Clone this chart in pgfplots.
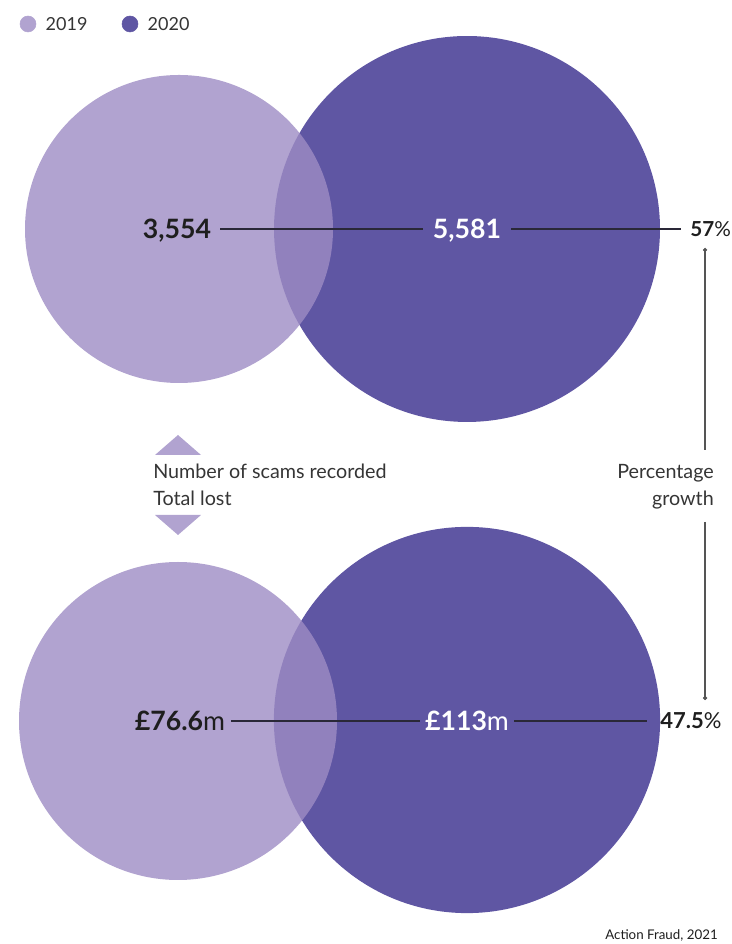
\documentclass[border=0pt]{standalone}
\usepackage{pgfplots}
\usepackage{pgfplotstable}
\pgfplotsset{compat=1.18}
\usepackage{fontspec}
\setmainfont{Lato}
\definecolor{c19}{HTML}{B1A3D0}
\definecolor{c19b}{RGB}{158,140,196}
\definecolor{c20}{HTML}{5F56A3}
\definecolor{txt}{HTML}{1E1E1E}
\definecolor{ln}{HTML}{2A2838}
\definecolor{gr}{HTML}{555555}
% x, y: position of the circle (px); v: value; k: scale (pt per sqrt unit)
\pgfplotstableread{
x y v k
179 229 3554 1.9374
178 721 76.6 13.625
}\tabA
\pgfplotstableread{
x y v k
467 229 5581 1.9374
467 720 113 13.625
}\tabB
\begin{document}
\begin{tikzpicture}
\begin{axis}[
  x=0.75pt, y=0.75pt, y dir=reverse,
  xmin=0, xmax=731, ymin=0, ymax=944,
  hide axis, clip=false, set layers,
]
\path (rel axis cs:0,0) rectangle (rel axis cs:1,1);
% 2020 circles
\addplot[on layer=axis background, scatter, only marks, mark=*,
  mark options={draw opacity=0, fill=c20},
  scatter/use mapped color={draw opacity=0, fill=c20},
  visualization depends on={\thisrow{k}*sqrt(\thisrow{v}) \as \rad},
  scatter/@pre marker code/.append style={/tikz/mark size=\rad}]
  table[x=x, y=y] {\tabB};
% 2019 circles
\addplot[on layer=axis grid, scatter, only marks, mark=*,
  mark options={draw opacity=0, fill=c19b, fill opacity=0.8},
  scatter/use mapped color={draw opacity=0, fill=c19b, fill opacity=0.8},
  visualization depends on={\thisrow{k}*sqrt(\thisrow{v}) \as \rad},
  scatter/@pre marker code/.append style={/tikz/mark size=\rad}]
  table[x=x, y=y] {\tabA};
% connector lines
\addplot[on layer=axis foreground, ln, line width=0.8pt] coordinates {(220,229) (423,229)};
\addplot[on layer=axis foreground, ln, line width=0.8pt] coordinates {(511,229) (681,229)};
\addplot[on layer=axis foreground, ln, line width=0.8pt] coordinates {(231,721) (420,721)};
\addplot[on layer=axis foreground, ln, line width=0.8pt] coordinates {(514,721) (647,721)};
% vertical growth line
\addplot[on layer=axis foreground, gr, line width=0.8pt] coordinates {(705,250) (705,450)};
\addplot[on layer=axis foreground, gr, line width=0.8pt] coordinates {(705,522) (705,698)};
\addplot[on layer=axis foreground, gr, only marks, mark=*, mark size=1.4pt] coordinates {(705,250) (705,698)};
% triangles
\addplot[fill=c19, draw=none] coordinates {(155,455) (178,435) (201,455)} -- cycle;
\addplot[fill=c19, draw=none] coordinates {(155,515) (201,515) (178,535)} -- cycle;
% legend dots
\addplot[only marks, mark=*, mark size=6pt, c19, mark options={draw=none}] coordinates {(28,24)};
\addplot[only marks, mark=*, mark size=6pt, c20, mark options={draw=none}] coordinates {(130,24)};
% texts
\begin{pgfonlayer}{axis foreground}
\node[anchor=base west, text=txt!90, font=\fontsize{13.5}{15}\selectfont] at (axis cs:41,30.5) {2019};
\node[anchor=base west, text=txt!90, font=\fontsize{13.5}{15}\selectfont] at (axis cs:143,30.5) {2020};

\node[anchor=base, text=txt, font=\bfseries\fontsize{20}{22}\selectfont] at (axis cs:177,239) {3,554};
\node[anchor=base, text=white, font=\bfseries\fontsize{20}{22}\selectfont] at (axis cs:467,239) {5,581};
\node[anchor=base west, inner sep=0pt, text=txt, font=\fontsize{15.5}{17}\selectfont] at (axis cs:690,236.5) {\textbf{57}\%};

\node[anchor=base, text=txt, font=\fontsize{20}{22}\selectfont] at (axis cs:180,731) {\textbf{£76.6}m};
\node[anchor=base, text=white, font=\fontsize{20}{22}\selectfont] at (axis cs:467,731) {\textbf{£113}m};
\node[anchor=base west, inner sep=0pt, text=txt, font=\fontsize{16.5}{18}\selectfont] at (axis cs:660,728.5) {\textbf{47.5}\%};

\node[anchor=base west, inner sep=0pt, text=txt!90, font=\fontsize{14.8}{17}\selectfont] at (axis cs:153,479) {Number of scams recorded};
\node[anchor=base west, inner sep=0pt, text=txt!90, font=\fontsize{14.8}{17}\selectfont] at (axis cs:153,506) {Total lost};
\node[anchor=base east, inner sep=0pt, text=txt!90, font=\fontsize{14.8}{17}\selectfont] at (axis cs:714,479) {Percentage};
\node[anchor=base east, inner sep=0pt, text=txt!90, font=\fontsize{14.8}{17}\selectfont] at (axis cs:714,506) {growth};

\node[anchor=base east, inner sep=0pt, text=txt, font=\fontsize{10}{12}\selectfont] at (axis cs:718,940) {Action Fraud, 2021};
\end{pgfonlayer}
\end{axis}
\end{tikzpicture}
\end{document}
